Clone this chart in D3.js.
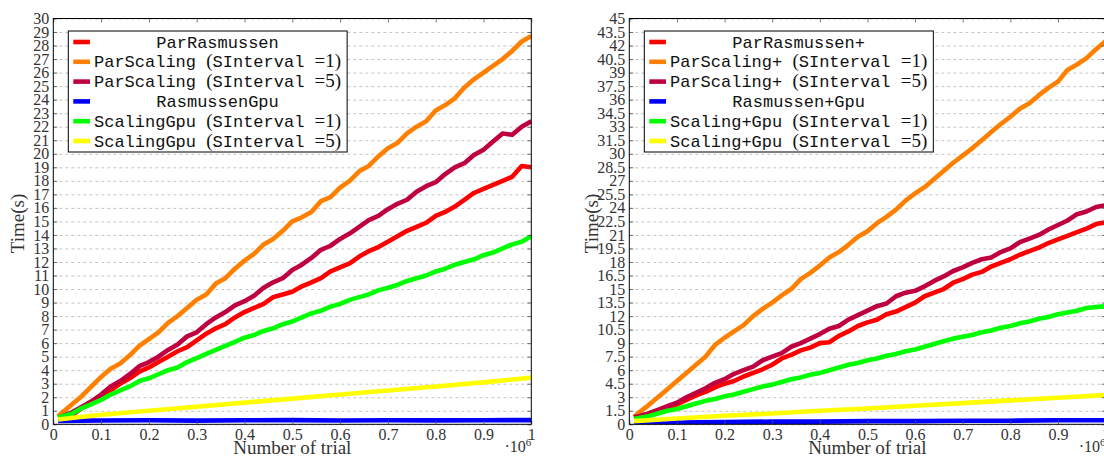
<!DOCTYPE html>
<html>
<head>
<meta charset="utf-8">
<script src="https://cdn.jsdelivr.net/npm/d3@7/dist/d3.min.js"></script>
<style>
  html, body { margin: 0; padding: 0; background: #fff; }
  svg { display: block; }
</style>
</head>
<body>
<svg id="chart" width="1104" height="457"></svg>
<script>
// ---------------- DATA ----------------
const trials = [0.01,0.02,0.04,0.06,0.08,0.10,0.12,0.14,0.16,0.18,0.20,0.22,0.24,0.26,0.28,0.30,0.32,0.34,0.36,0.38,0.40,0.42,0.44,0.46,0.48,0.50,0.52,0.54,0.56,0.58,0.60,0.62,0.64,0.66,0.68,0.70,0.72,0.74,0.76,0.78,0.80,0.82,0.84,0.86,0.88,0.90,0.92,0.94,0.96,0.98,1.00];
const trialsCoarse = [0.01,0.1,0.2,0.3,0.4,0.5,0.6,0.7,0.8,0.9,1.0];

const xTicks = [0,0.1,0.2,0.3,0.4,0.5,0.6,0.7,0.8,0.9,1];
const xTickLabels = ["0","0.1","0.2","0.3","0.4","0.5","0.6","0.7","0.8","0.9","1"];
const yTicksLeft = [0,1,2,3,4,5,6,7,8,9,10,11,12,13,14,15,16,17,18,19,20,21,22,23,24,25,26,27,28,29,30];
const yTicksRight = [0,1.5,3,4.5,6,7.5,9,10.5,12,13.5,15,16.5,18,19.5,21,22.5,24,25.5,27,28.5,30,31.5,33,34.5,36,37.5,39,40.5,42,43.5,45];

const legendLeft = ["ParRasmussen","ParScaling (SInterval =1)","ParScaling (SInterval =5)","RasmussenGpu","ScalingGpu (SInterval =1)","ScalingGpu (SInterval =5)"];
const legendRight = ["ParRasmussen+","ParScaling+ (SInterval =1)","ParScaling+ (SInterval =5)","Rasmussen+Gpu","Scaling+Gpu (SInterval =1)","Scaling+Gpu (SInterval =5)"];
const seriesColors = ["#ff0000","#ff8000","#bf0040","#0000ff","#00ff00","#ffff00"];

// Left panel (time in s)
const leftParRasmussen = [0.5,0.5,0.7,1.2,1.6,2.1,2.5,3.0,3.4,3.9,4.2,4.6,5.0,5.4,5.7,6.2,6.7,7.1,7.4,7.9,8.3,8.6,8.9,9.4,9.6,9.8,10.2,10.5,10.8,11.3,11.6,11.9,12.4,12.8,13.1,13.5,13.9,14.3,14.6,14.9,15.4,15.7,16.1,16.6,17.1,17.4,17.7,18.0,18.3,19.1,19.0];
const leftParScaling1 = [0.6,0.9,1.5,2.1,2.8,3.5,4.1,4.5,5.1,5.8,6.3,6.8,7.5,8.0,8.6,9.2,9.6,10.4,10.8,11.5,12.1,12.6,13.3,13.7,14.3,15.0,15.3,15.7,16.5,16.8,17.5,18.0,18.7,19.1,19.8,20.4,20.8,21.5,22.0,22.4,23.2,23.6,24.1,24.9,25.5,26.0,26.5,27.0,27.6,28.3,28.7];
const leftParScaling5 = [0.5,0.6,0.9,1.3,1.7,2.2,2.8,3.2,3.7,4.3,4.6,5.0,5.5,5.9,6.5,6.8,7.4,7.9,8.3,8.8,9.1,9.5,10.1,10.5,10.8,11.4,11.8,12.3,12.9,13.2,13.7,14.1,14.6,15.1,15.4,15.9,16.3,16.6,17.2,17.6,17.9,18.5,19.0,19.3,19.9,20.3,20.9,21.5,21.4,22.0,22.4];
const leftRasmussenGpu = [0.25,0.28,0.30,0.27,0.30,0.31,0.28,0.30,0.29,0.30,0.31];
const leftScalingGpu1 = [0.5,0.6,0.8,1.2,1.5,1.8,2.2,2.5,2.8,3.2,3.4,3.7,4.0,4.2,4.6,4.9,5.2,5.5,5.8,6.1,6.4,6.6,6.9,7.1,7.4,7.6,7.9,8.2,8.4,8.7,8.9,9.2,9.4,9.6,9.9,10.1,10.3,10.6,10.8,11.0,11.3,11.5,11.8,12.0,12.2,12.5,12.7,13.0,13.3,13.5,13.9];
const leftScalingGpu5 = [0.35,0.7,1.0,1.3,1.6,1.9,2.2,2.5,2.8,3.1,3.45];

// Right panel (time in s)
const rightParRasmussen = [0.8,0.9,1.1,1.5,1.8,2.2,2.7,3.2,3.6,4.1,4.5,4.8,5.3,5.7,6.1,6.6,7.3,7.7,8.2,8.5,9.0,9.1,9.8,10.3,10.9,11.3,11.6,12.2,12.5,13.0,13.5,14.2,14.6,15.0,15.7,16.1,16.6,16.9,17.5,17.9,18.3,18.8,19.2,19.6,20.1,20.5,20.9,21.3,21.7,22.2,22.4];
const rightParScaling1 = [0.8,1.3,2.1,3.0,3.9,4.8,5.7,6.6,7.5,8.8,9.6,10.3,11.0,12.0,12.8,13.5,14.3,15.0,16.1,16.8,17.6,18.5,19.1,19.9,20.8,21.4,22.3,23.0,23.8,24.8,25.6,26.3,27.2,28.1,29.0,29.8,30.6,31.5,32.4,33.3,34.1,35.0,35.6,36.5,37.3,38.0,39.3,39.9,40.6,41.6,42.5];
const rightParScaling5 = [0.8,0.9,1.2,1.6,2.0,2.4,3.0,3.5,4.0,4.6,5.0,5.6,6.0,6.4,7.1,7.5,7.9,8.6,9.0,9.5,10.0,10.6,10.9,11.6,12.1,12.6,13.1,13.4,14.2,14.6,14.8,15.3,15.9,16.4,17.0,17.4,17.9,18.3,18.5,19.1,19.5,20.2,20.6,21.0,21.6,22.1,22.6,23.3,23.6,24.1,24.3];
const rightRasmussenGpu = [0.1,0.2,0.25,0.3,0.3,0.35,0.35,0.4,0.4,0.45,0.45];
const rightScalingGpu1 = [0.6,0.7,0.9,1.2,1.5,1.7,2.0,2.3,2.6,2.8,3.1,3.3,3.6,3.9,4.2,4.4,4.7,5.0,5.2,5.5,5.7,6.0,6.3,6.6,6.8,7.1,7.3,7.6,7.8,8.1,8.3,8.6,8.9,9.2,9.5,9.7,9.9,10.2,10.4,10.7,10.9,11.2,11.4,11.7,11.9,12.2,12.4,12.6,12.9,13.0,13.1];
const rightScalingGpu5 = [0.35,0.65,0.95,1.2,1.5,1.75,2.05,2.35,2.65,2.95,3.25];

// ---------------- DRAWING ----------------
const svg = d3.select("#chart");
const serifFont = "'Liberation Serif', 'Times New Roman', serif";
const monoFont = "'Liberation Mono', 'DejaVu Sans Mono', monospace";
const textColor = "#333";

function drawPanel(cfg) {
  const { x0, x1, y0, y1, yMax, yTicks, series, legend, ylabelX } = cfg;
  const g = svg.append("g");
  const x = d3.scaleLinear().domain([0, 1]).range([x0, x1]);
  const y = d3.scaleLinear().domain([0, yMax]).range([y1, y0]);

  const clipId = "clip" + Math.round(x0);
  svg.append("clipPath").attr("id", clipId)
    .append("rect").attr("x", x0).attr("y", y0).attr("width", x1 - x0).attr("height", y1 - y0);

  // grid
  const grid = g.append("g").attr("transform", `translate(${x0},0)`)
    .call(d3.axisLeft(y).tickValues(yTicks).tickSize(-(x1 - x0)).tickFormat(""));
  grid.select(".domain").remove();
  grid.selectAll("line").attr("stroke", "#c4c4c4").attr("stroke-width", 1).attr("stroke-dasharray", "3,3");

  // lines
  const lineGen = d3.line().x(d => x(d[0])).y(d => y(d[1]));
  const lg = g.append("g").attr("clip-path", `url(#${clipId})`);
  series.forEach(s => {
    const pts = s.xs.map((xv, i) => [xv, s.values[i]]);
    lg.append("path").attr("d", lineGen(pts))
      .attr("fill", "none").attr("stroke", s.color)
      .attr("stroke-width", 4.6).attr("stroke-linejoin", "round").attr("stroke-linecap", "butt");
  });

  // axes with inward ticks
  const bottom = g.append("g").attr("transform", `translate(0,${y1})`)
    .call(d3.axisBottom(x).tickValues(xTicks).tickSizeInner(-4).tickSizeOuter(0).tickPadding(4)
      .tickFormat((d, i) => xTickLabels[i]));
  const top = g.append("g").attr("transform", `translate(0,${y0})`)
    .call(d3.axisTop(x).tickValues(xTicks).tickSizeInner(-4).tickSizeOuter(0).tickFormat(""));
  const left = g.append("g").attr("transform", `translate(${x0},0)`)
    .call(d3.axisLeft(y).tickValues(yTicks).tickSizeInner(-4).tickSizeOuter(0).tickPadding(4)
      .tickFormat(d => String(d)));
  const right = g.append("g").attr("transform", `translate(${x1},0)`)
    .call(d3.axisRight(y).tickValues(yTicks).tickSizeInner(-4).tickSizeOuter(0).tickFormat(""));
  [bottom, top, left, right].forEach(a => {
    a.select(".domain").remove();
    a.selectAll("line").attr("stroke", "#555").attr("stroke-width", 0.8);
    a.selectAll("text").attr("font-family", serifFont).attr("font-size", 16).attr("fill", textColor);
  });

  // frame
  g.append("rect").attr("x", x0).attr("y", y0).attr("width", x1 - x0).attr("height", y1 - y0)
    .attr("fill", "none").attr("stroke", "#000").attr("stroke-width", 1);

  // axis titles
  g.append("text").attr("x", (x0 + x1) / 2).attr("y", 453.5)
    .attr("text-anchor", "middle").attr("font-family", serifFont).attr("font-size", 19)
    .attr("fill", textColor).text("Number of trial");
  g.append("text").attr("transform", `translate(${ylabelX},${(y0 + y1) / 2 + 2}) rotate(-90)`)
    .attr("text-anchor", "middle").attr("font-family", serifFont).attr("font-size", 19)
    .attr("fill", textColor).text("Time(s)");
  const mult = g.append("text").attr("x", x1).attr("y", 451.5).attr("text-anchor", "end")
    .attr("font-family", serifFont).attr("font-size", 16).attr("fill", textColor);
  mult.append("tspan").text("·10");
  mult.append("tspan").attr("dy", -6).attr("font-size", 11).text("6");

  // legend
  const lx = x0 + 15, ly = y0 + 12.5;
  const rowH = 19.8;
  const leg = g.append("g");
  const box = leg.append("rect").attr("fill", "#fff").attr("stroke", "#000").attr("stroke-width", 1);
  const textX = lx + 25.7;
  const items = [];
  legend.forEach((label, i) => {
    const cy = ly + 11 + i * rowH;
    leg.append("line").attr("x1", lx + 5).attr("x2", lx + 21.7).attr("y1", cy).attr("y2", cy)
      .attr("stroke", series[i].color).attr("stroke-width", 4.6);
    const t = leg.append("text").attr("y", cy + 5.5).attr("fill", "#111").attr("font-size", 17);
    const m = label.match(/^(\S+) \((\S+) (=\d)\)$/);
    if (m) {
      t.append("tspan").attr("font-family", monoFont).text(m[1] + " ");
      t.append("tspan").attr("font-family", serifFont).attr("font-size", 19).text("(");
      t.append("tspan").attr("font-family", monoFont).text(m[2] + " ");
      t.append("tspan").attr("font-family", serifFont).attr("font-size", 19).text(m[3] + ")");
    } else {
      t.append("tspan").attr("font-family", monoFont).text(label);
    }
    items.push(t);
  });
  const widths = items.map(t => t.node().getComputedTextLength());
  const maxW = d3.max(widths);
  items.forEach((t, i) => {
    if (widths[i] < maxW - 20) {
      t.attr("x", textX + maxW / 2).attr("text-anchor", "middle");
    } else {
      t.attr("x", textX);
    }
  });
  box.attr("x", lx).attr("y", ly).attr("width", textX + maxW + 6 - lx).attr("height", 121);
}

drawPanel({
  x0: 53.3, x1: 531.3, y0: 18.5, y1: 424.3, yMax: 30, yTicks: yTicksLeft, ylabelX: 24,
  legend: legendLeft,
  series: [
    { xs: trials, values: leftParRasmussen, color: seriesColors[0] },
    { xs: trials, values: leftParScaling1, color: seriesColors[1] },
    { xs: trials, values: leftParScaling5, color: seriesColors[2] },
    { xs: trialsCoarse, values: leftRasmussenGpu, color: seriesColors[3] },
    { xs: trials, values: leftScalingGpu1, color: seriesColors[4] },
    { xs: trialsCoarse, values: leftScalingGpu5, color: seriesColors[5] }
  ]
});

drawPanel({
  x0: 629.3, x1: 1105.6, y0: 18.5, y1: 424.3, yMax: 45, yTicks: yTicksRight, ylabelX: 598,
  legend: legendRight,
  series: [
    { xs: trials, values: rightParRasmussen, color: seriesColors[0] },
    { xs: trials, values: rightParScaling1, color: seriesColors[1] },
    { xs: trials, values: rightParScaling5, color: seriesColors[2] },
    { xs: trialsCoarse, values: rightRasmussenGpu, color: seriesColors[3] },
    { xs: trials, values: rightScalingGpu1, color: seriesColors[4] },
    { xs: trialsCoarse, values: rightScalingGpu5, color: seriesColors[5] }
  ]
});
</script>
</body>
</html>
